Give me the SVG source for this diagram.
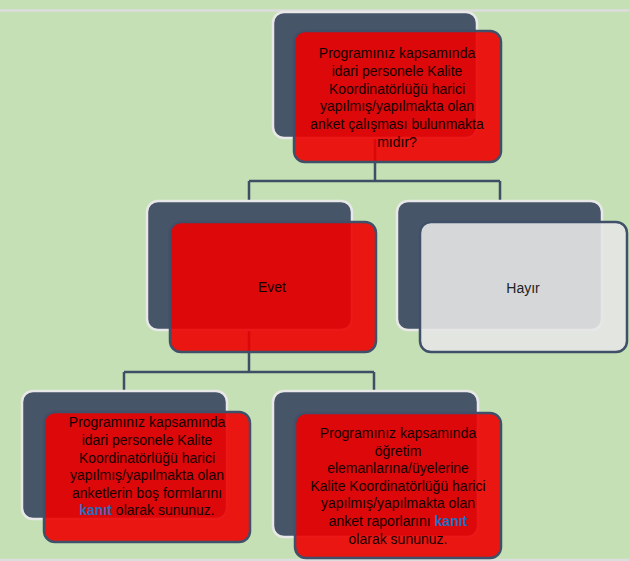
<svg xmlns="http://www.w3.org/2000/svg" width="629" height="561" viewBox="0 0 629 561">
<style>
.bg{fill:#C5E0B4}
.rule{stroke:#DDDDDD;stroke-width:2.5}
.conn{fill:none;stroke:#3E4E64;stroke-width:2.5}
.back{fill:#475569;stroke:#E8E8E8;stroke-width:2.5}
.front{fill:#EC0000;fill-opacity:0.9;stroke:#3F5068;stroke-width:2.5}
.frontg{fill:#E6E6E6;fill-opacity:0.9;stroke:#3F5068;stroke-width:2.5}
.t{font-family:"Liberation Sans",Arial,sans-serif;font-size:14px;fill:#140000;text-anchor:middle}
.g{fill:#222222}
.k{fill:#1F6FC0;font-weight:bold}
</style>
<rect class="bg" x="0" y="0" width="629" height="561"/>
<line class="rule" x1="0" y1="10.5" x2="629" y2="10.5"/>
<line class="rule" x1="0" y1="560" x2="629" y2="560"/>
<g id="connectors">
<path class="conn" d="M375,138 V181 M249,181 H500 M249,181 V201 M500,181 V201"/>
<path class="conn" d="M249,330 V372 M124,372 H374 M124,372 V391 M374,372 V391"/>
</g>
<g id="node-question">
<rect class="back" x="273" y="12" width="204" height="126" rx="11"/>
<rect class="front" x="294" y="31" width="207" height="131" rx="11"/>
<text class="t"><tspan x="397" y="58">Programınız kapsamında</tspan><tspan x="397" y="75.8">idari personele Kalite</tspan><tspan x="397" y="93.6">Koordinatörlüğü harici</tspan><tspan x="397" y="111.4">yapılmış/yapılmakta olan</tspan><tspan x="397" y="129.2">anket çalışması bulunmakta</tspan><tspan x="397" y="147">mıdır?</tspan></text>
</g>
<g id="node-evet">
<rect class="back" x="147" y="201" width="205" height="129" rx="11"/>
<rect class="front" x="170" y="222" width="206" height="130" rx="11"/>
<text class="t" x="272" y="292">Evet</text>
</g>
<g id="node-hayir">
<rect class="back" x="397" y="201" width="205" height="129" rx="11"/>
<rect class="frontg" x="420" y="222" width="207" height="130" rx="11"/>
<text class="t g" x="523" y="293">Hayır</text>
</g>
<g id="node-evet-left">
<rect class="back" x="22" y="391" width="205" height="128" rx="11"/>
<rect class="front" x="44" y="412" width="206" height="130" rx="11"/>
<text class="t"><tspan x="147" y="427">Programınız kapsamında</tspan><tspan x="147" y="445">idari personele Kalite</tspan><tspan x="147" y="463">Koordinatörlüğü harici</tspan><tspan x="147" y="480">yapılmış/yapılmakta olan</tspan><tspan x="147" y="498">anketlerin boş formlarını</tspan><tspan x="147" y="515"><tspan class="k">kanıt</tspan> olarak sununuz.</tspan></text>
</g>
<g id="node-evet-right">
<rect class="back" x="273" y="391" width="205" height="146" rx="11"/>
<rect class="front" x="295" y="413" width="206" height="145" rx="11"/>
<text class="t"><tspan x="398" y="438">Programınız kapsamında</tspan><tspan x="398" y="455.6">öğretim</tspan><tspan x="398" y="473.2">elemanlarına/üyelerine</tspan><tspan x="398" y="490.8">Kalite Koordinatörlüğü harici</tspan><tspan x="398" y="508.4">yapılmış/yapılmakta olan</tspan><tspan x="398" y="526">anket raporlarını <tspan class="k">kanıt</tspan></tspan><tspan x="398" y="543.6">olarak sununuz.</tspan></text>
</g>
</svg>
